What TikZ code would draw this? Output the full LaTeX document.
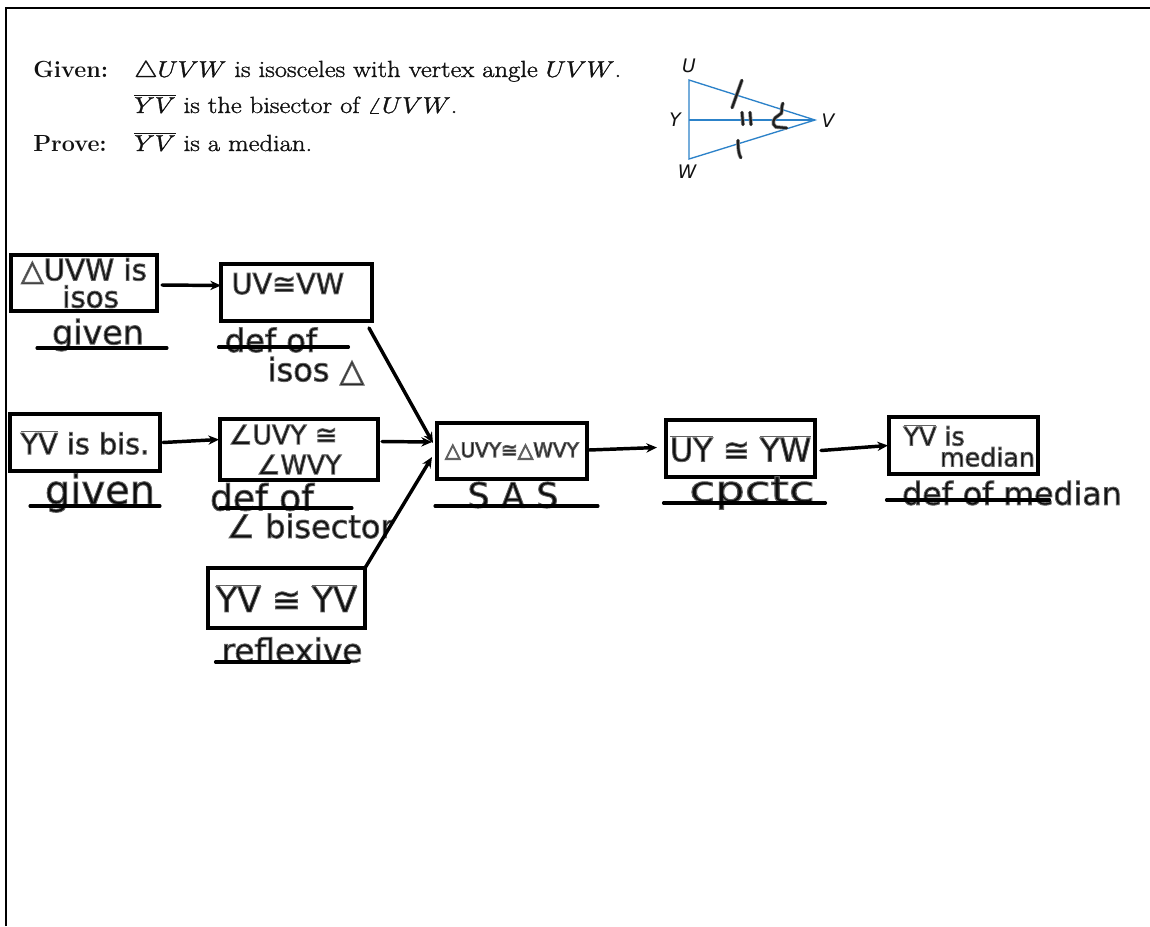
\documentclass[tikz,border=0pt]{standalone}
\usepackage{graphicx}
\usepackage{fontspec}
\setsansfont{DejaVu Sans}
\newfontfamily\handfont{DejaVu Sans}
\usetikzlibrary{arrows.meta}
\definecolor{inkc}{HTML}{1E1E1E}
\definecolor{haloc}{HTML}{8C8C8C}
\definecolor{triblue}{HTML}{2C82C9}
\definecolor{printc}{HTML}{111111}
\newcommand{\halo}[1]{\special{pdf:code q 2 Tr 0.7 w 0.38 G 0.05 g}#1\special{pdf:code Q}}
\newcommand{\halox}[2]{\halo{\scalebox{#1}[1]{#2}}}
\newcommand{\firm}[1]{\special{pdf:code q 2 Tr 0.22 w 0.07 G 0.07 g}\scalebox{1.14}[1]{#1}\special{pdf:code Q}}
\newcommand{\hs}[2]{\fontsize{#1}{#2}\selectfont\handfont}
\newcommand{\ovl}[1]{$\overline{\mbox{#1}}$}
\tikzset{
  proofbox/.style={draw=black,line width=2.6pt,inner sep=0pt,outer sep=0pt,align=center,text=inkc},
  hand/.style={inner sep=0pt,text=inkc,align=center},
  rulel/.style={draw=black,line width=2.3pt,line cap=round},
  flow/.style={draw=black,line width=2.6pt,line cap=round,-{Stealth[length=8pt,width=7pt]}},
  printed/.style={inner sep=0pt,anchor=base west,text=printc,font=\fontsize{17.5}{20}\selectfont},
  tri/.style={draw=triblue,line width=1pt},
  trilabel/.style={inner sep=0pt,text=printc,font=\fontsize{14}{16}\selectfont\sffamily\itshape},
  tick/.style={draw=inkc,line width=1.7pt,line cap=round,line join=round,preaction={draw=haloc,line width=2.8pt}},
}
\begin{document}
\begin{tikzpicture}[x=0.75pt,y=-0.75pt]
\useasboundingbox (0,0) rectangle (1150,926);
\fill[white] (0,0) rectangle (1150,926);
% page frame
\coordinate (fTL) at (6,8);
\coordinate (fTR) at (1150,8);
\coordinate (fBL) at (6,926);
\draw[black,line width=2pt] (fBL) -- (fTL) -- (fTR);
% printed statement
\node[printed] (lgiven) at (33,77) {\textbf{Given:}};
\node[printed] (t1) at (134,77) {\firm{$\triangle UVW$ is isosceles with vertex angle $UVW$.}};
\node[printed] (t2) at (134,113) {\firm{$\overline{YV}$ is the bisector of $\angle UVW$.}};
\node[printed] (lprove) at (33,151) {\textbf{Prove:}};
\node[printed] (t3) at (134,151) {\firm{$\overline{YV}$ is a median.}};
% triangle figure
\coordinate (U) at (689,80);
\coordinate (W) at (689,159);
\coordinate (V) at (815,120);
\coordinate (Y) at (689,120);
\draw[tri] (U) -- (V) -- (W) -- cycle;
\draw[tri] (Y) -- (V);
\node[trilabel] (lU) at (689,66) {U};
\node[trilabel] (lY) at (675,120) {Y};
\node[trilabel] (lW) at (687,172) {W};
\node[trilabel] (lV) at (828,121) {V};
\draw[tick] (742,80) -- (732,108);
\draw[tick] (742,112) -- (743,125);
\draw[tick] (750,112) -- (751,125);
\draw[tick] (738,140) .. controls (738,150) and (739,155) .. (741,158);
\draw[tick] (783,103) .. controls (780,110) and (784,113) .. (779,115) .. controls (773,118) and (771,124) .. (776,127) -- (787,128);
% boxes
\node[proofbox,font=\hs{22}{18},minimum width=146*0.75pt,minimum height=56*0.75pt] (b1) at (84,283)
  {\halo{△UVW is}\\\hspace*{10pt}\halo{isos}};
\node[proofbox,font=\hs{21.5}{13.5},minimum width=151*0.75pt,minimum height=57*0.75pt] (b2) at (296.5,292.5)
  {\halo{UV≅VW}\hspace*{13pt}\\\mbox{}};
\node[proofbox,font=\hs{21.5}{20},minimum width=150*0.75pt,minimum height=57*0.75pt] (b3) at (85,442.5)
  {\halo{\ovl{YV} is bis.}};
\node[proofbox,font=\hs{20}{22.5},minimum width=158*0.75pt,minimum height=61*0.75pt] (b4) at (299,449.5)
  {\halo{∠UVY ≅}\hspace*{24pt}\\\halo{∠WVY}};
\node[proofbox,font=\hs{26}{22},minimum width=157*0.75pt,minimum height=60*0.75pt] (b5) at (286.5,598)
  {\halo{\ovl{YV} ≅ \ovl{YV}}};
\node[proofbox,font=\hs{15}{16},minimum width=150*0.75pt,minimum height=56*0.75pt] (b6) at (512,451)
  {\halo{△UVY≅△WVY}};
\node[proofbox,font=\hs{24}{22},minimum width=149*0.75pt,minimum height=57*0.75pt] (b7) at (740.5,448.5)
  {\halo{\ovl{UY} ≅ \ovl{YW}}};
\node[proofbox,font=\hs{19}{13},minimum width=149*0.75pt,minimum height=57*0.75pt] (b8) at (963.5,445.5)
  {\halo{\ovl{YV} is}\hspace*{44pt}\\\hspace*{36pt}\halo{median}};
% justifications
\node[hand,font=\hs{25}{26}] (j1) at (98,335) {\halo{given}};
\node[hand,font=\hs{24}{26}] (j2) at (271,340) {\halo{def of}};
\node[hand,font=\hs{24}{26}] (j2b) at (316,371) {\halo{isos △}};
\node[hand,font=\hs{30}{32}] (j3) at (100,493) {\halo{given}};
\node[hand,font=\hs{27}{28}] (j4) at (262,497) {\halo{def of}};
\node[hand,font=\hs{24}{26}] (j4b) at (310,526) {\halo{∠ bisector}};
\node[hand,font=\hs{24.5}{26}] (j5) at (292,650) {\halo{reflexive}};
\node[hand,font=\hs{26}{28}] (j6) at (513,495) {\halo{S\,\,A\,\,S}};
\node[hand,font=\hs{27}{28}] (j7) at (752,493) {\halox{1.3}{cpctc}};
\node[hand,font=\hs{23.7}{26}] (j8) at (1012,493) {\halo{def of median}};
% underlines
\draw[rulel] ([shift={(-47,37)}]b1.south) -- ([shift={(83,37)}]b1.south);
\draw[rulel] ([shift={(-78,26)}]b2.south) -- ([shift={(52,26)}]b2.south);
\draw[rulel] ([shift={(-55,35)}]b3.south) -- ([shift={(75,35)}]b3.south);
\draw[rulel] ([shift={(-79,28)}]b4.south) -- ([shift={(53,28)}]b4.south);
\draw[rulel] ([shift={(-71,34)}]b5.south) -- ([shift={(63,34)}]b5.south);
\draw[rulel] ([shift={(-77,27)}]b6.south) -- ([shift={(86,27)}]b6.south);
\draw[rulel] ([shift={(-77,26)}]b7.south) -- ([shift={(85,26)}]b7.south);
\draw[rulel] ([shift={(-77,26)}]b8.south) -- ([shift={(86,26)}]b8.south);
% connectors
\draw[flow] ([shift={(5,2)}]b1.east) -- ([shift={(0,-7)}]b2.west);
\draw[flow] ([shift={(3,0)}]b3.east) -- ([shift={(-1,-10)}]b4.west);
\draw[flow] ([shift={(4,-8)}]b4.east) -- ([shift={(-5,-9)}]b6.west);
\draw[flow] ([shift={(-3,7)}]b2.south east) -- ([shift={(-4,-8)}]b6.west);
\draw[flow] (b5.north east) -- ([shift={(-5,6)}]b6.west);
\draw[flow] ([shift={(2,-1)}]b6.east) -- ([shift={(-9,-1)}]b7.west);
\draw[flow] ([shift={(6,2)}]b7.east) -- ([shift={(-1,0)}]b8.west);
\end{tikzpicture}
\end{document}
